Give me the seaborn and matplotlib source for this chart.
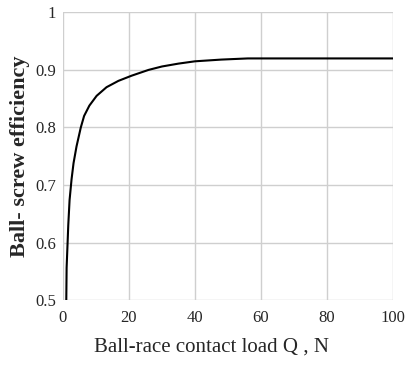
import matplotlib
matplotlib.use("Agg")
import matplotlib.pyplot as plt
import seaborn as sns
import pandas as pd
from matplotlib.ticker import FuncFormatter

load_q = [1.0, 1.1, 1.4, 1.6, 2.0, 2.6, 3.2, 4.1, 5.4, 6.4, 8.0, 10.2, 13.2, 16.8,
          20.8, 25.9, 30, 35, 40, 48, 56, 70, 85, 100]
efficiency = [0.50, 0.556, 0.60, 0.63, 0.674, 0.71, 0.738, 0.767, 0.80, 0.82, 0.838,
              0.855, 0.870, 0.881, 0.890, 0.900, 0.906, 0.911, 0.915, 0.918, 0.920,
              0.920, 0.920, 0.920]
x_ticks = [0, 20, 40, 60, 80, 100]
y_ticks = [0.5, 0.6, 0.7, 0.8, 0.9, 1.0]

sns.set_style("white")
plt.rcParams['font.family'] = ['Liberation Serif', 'DejaVu Serif']

df = pd.DataFrame({"Q": load_q, "eff": efficiency})

fig = plt.figure(figsize=(4.13, 3.65), dpi=100)
ax = fig.add_axes([0.1525, 0.178, 0.799, 0.788])
sns.lineplot(data=df, x="Q", y="eff", ax=ax, color="black", linewidth=1.5)

ax.set_xlim(0, 100)
ax.set_ylim(0.5, 1.0)
ax.set_xticks(x_ticks)
ax.set_yticks(y_ticks)
ax.yaxis.set_major_formatter(FuncFormatter(lambda v, p: f"{v:g}"))
ax.grid(True, color="#cfcfcf", linewidth=1.0)
for s in ax.spines.values():
    s.set_visible(False)
ax.tick_params(axis="both", length=0, labelsize=12)
ax.tick_params(axis="x", pad=7)
ax.tick_params(axis="y", pad=5)
ax.set_xlabel("Ball-race contact load Q , N", fontsize=15)
ax.xaxis.set_label_coords(0.45, -0.13)
ax.set_ylabel("Ball- screw efficiency", fontsize=16, fontweight="bold", labelpad=4)

fig.savefig("out.png", dpi=100)
